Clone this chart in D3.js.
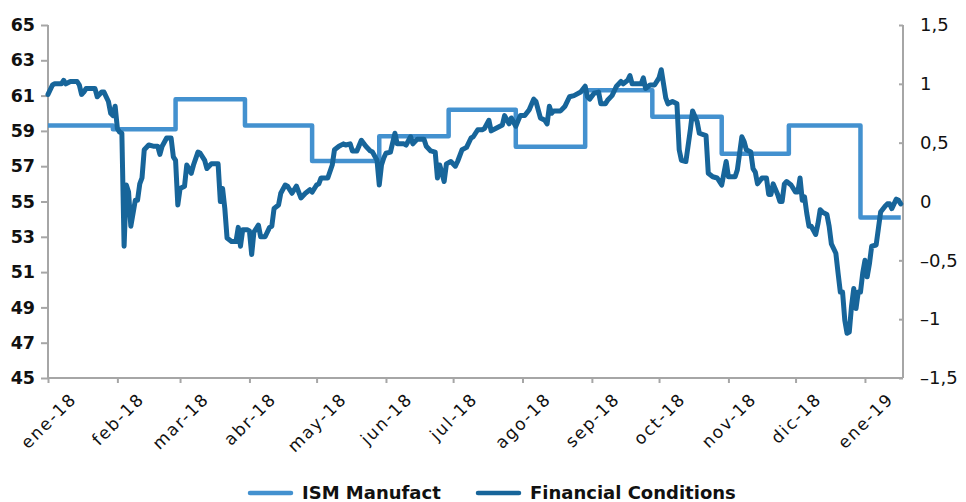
<!DOCTYPE html>
<html>
<head>
<meta charset="utf-8">
<script src="https://cdn.jsdelivr.net/npm/d3@7"></script>
<style>
  body { margin: 0; background: #fff; }
</style>
</head>
<body>
<script>
// ISM vs Financial Conditions chart

// ISM Manufacturing (left axis), value changes on these dates
var ismDates = ["2018-01-01","2018-01-30","2018-02-27","2018-03-30","2018-04-29","2018-05-29",
  "2018-06-29","2018-07-29","2018-08-29","2018-09-28","2018-10-29","2018-11-28","2018-12-30","2019-01-17"];
var ismValues = [59.3, 59.1, 60.8, 59.3, 57.3, 58.7, 60.2, 58.1, 61.3, 59.8, 57.7, 59.3, 54.1, 54.1];

// Financial Conditions index (right axis)
var fcDates = [
  "2018-01-01","2018-01-03","2018-01-04","2018-01-07","2018-01-08","2018-01-09","2018-01-11","2018-01-14","2018-01-15","2018-01-16",
  "2018-01-17","2018-01-18","2018-01-22","2018-01-23","2018-01-25","2018-01-26","2018-01-28","2018-01-29","2018-01-30","2018-01-31",
  "2018-02-01","2018-02-02","2018-02-03","2018-02-04","2018-02-05","2018-02-06","2018-02-07","2018-02-09","2018-02-10","2018-02-11",
  "2018-02-12","2018-02-13","2018-02-15","2018-02-17","2018-02-19","2018-02-20","2018-02-21","2018-02-23","2018-02-25","2018-02-26",
  "2018-02-27","2018-02-28","2018-03-01","2018-03-03","2018-03-04","2018-03-06","2018-03-07","2018-03-09","2018-03-10","2018-03-12",
  "2018-03-13","2018-03-15","2018-03-18","2018-03-19","2018-03-20","2018-03-21","2018-03-22","2018-03-24","2018-03-26","2018-03-27",
  "2018-03-28","2018-03-29","2018-03-31","2018-04-01","2018-04-02","2018-04-03","2018-04-05","2018-04-06","2018-04-08","2018-04-10",
  "2018-04-11","2018-04-12","2018-04-14","2018-04-15","2018-04-17","2018-04-18","2018-04-20","2018-04-22","2018-04-24","2018-04-26",
  "2018-04-28","2018-04-29","2018-05-01","2018-05-02","2018-05-03","2018-05-06","2018-05-08","2018-05-09","2018-05-11","2018-05-13",
  "2018-05-14","2018-05-16","2018-05-17","2018-05-19","2018-05-21","2018-05-23","2018-05-25","2018-05-26","2018-05-28","2018-05-29",
  "2018-05-30","2018-05-31","2018-06-01","2018-06-03","2018-06-05","2018-06-06","2018-06-09","2018-06-10","2018-06-12","2018-06-13",
  "2018-06-15","2018-06-18","2018-06-19","2018-06-21","2018-06-23","2018-06-24","2018-06-25","2018-06-27","2018-06-28","2018-06-30",
  "2018-07-02","2018-07-03","2018-07-05","2018-07-07","2018-07-09","2018-07-10","2018-07-12","2018-07-14","2018-07-15","2018-07-17",
  "2018-07-18","2018-07-20","2018-07-23","2018-07-24","2018-07-26","2018-07-27","2018-07-29","2018-07-31","2018-08-02","2018-08-04",
  "2018-08-06","2018-08-07","2018-08-09","2018-08-11","2018-08-12","2018-08-13","2018-08-14","2018-08-15","2018-08-18","2018-08-20",
  "2018-08-22","2018-08-24","2018-08-27","2018-08-29","2018-08-30","2018-08-31","2018-09-02","2018-09-04","2018-09-05","2018-09-07",
  "2018-09-08","2018-09-10","2018-09-12","2018-09-14","2018-09-15","2018-09-17","2018-09-18","2018-09-19","2018-09-21","2018-09-23",
  "2018-09-24","2018-09-25","2018-09-27","2018-09-29","2018-10-01","2018-10-02","2018-10-04","2018-10-05","2018-10-07","2018-10-09",
  "2018-10-10","2018-10-11","2018-10-13","2018-10-15","2018-10-16","2018-10-18","2018-10-19","2018-10-22","2018-10-23","2018-10-25",
  "2018-10-27","2018-10-29","2018-10-30","2018-10-31","2018-11-01","2018-11-04","2018-11-05","2018-11-07","2018-11-08","2018-11-09",
  "2018-11-11","2018-11-12","2018-11-13","2018-11-14","2018-11-16","2018-11-18","2018-11-19","2018-11-20","2018-11-21","2018-11-23",
  "2018-11-24","2018-11-25","2018-11-26","2018-11-27","2018-11-29","2018-12-01","2018-12-02","2018-12-03","2018-12-04","2018-12-05",
  "2018-12-06","2018-12-07","2018-12-08","2018-12-10","2018-12-11","2018-12-12","2018-12-13","2018-12-15","2018-12-16","2018-12-17",
  "2018-12-19","2018-12-20","2018-12-21","2018-12-22","2018-12-23","2018-12-24","2018-12-25","2018-12-26","2018-12-27","2018-12-28",
  "2018-12-29","2018-12-30","2018-12-31","2019-01-01","2019-01-02","2019-01-03","2019-01-04","2019-01-06","2019-01-07","2019-01-08",
  "2019-01-10","2019-01-11","2019-01-12","2019-01-13","2019-01-15","2019-01-16","2019-01-17"];
var fcValues = [
  0.91, 0.99, 1.00, 1.00, 1.03, 1.00, 1.02, 1.02, 0.99, 0.91,
  0.93, 0.96, 0.96, 0.89, 0.93, 0.93, 0.85, 0.75, 0.73, 0.81,
  0.62, 0.59, 0.58, -0.38, 0.14, 0.08, -0.21, 0.01, 0.01, 0.15,
  0.20, 0.44, 0.48, 0.47, 0.47, 0.40, 0.47, 0.54, 0.54, 0.38,
  0.35, -0.03, 0.11, 0.13, 0.31, 0.24, 0.31, 0.42, 0.41, 0.35,
  0.28, 0.32, 0.32, 0.00, 0.11, -0.06, -0.31, -0.34, -0.34, -0.22,
  -0.38, -0.24, -0.24, -0.25, -0.45, -0.26, -0.20, -0.30, -0.30, -0.22,
  -0.21, -0.06, -0.03, 0.07, 0.14, 0.13, 0.07, 0.13, 0.03, 0.07,
  0.10, 0.08, 0.14, 0.15, 0.20, 0.20, 0.31, 0.44, 0.47, 0.49,
  0.48, 0.49, 0.43, 0.43, 0.52, 0.47, 0.43, 0.42, 0.35, 0.14,
  0.31, 0.37, 0.41, 0.42, 0.58, 0.49, 0.49, 0.48, 0.55, 0.49,
  0.53, 0.53, 0.47, 0.43, 0.42, 0.20, 0.31, 0.17, 0.32, 0.34,
  0.30, 0.34, 0.44, 0.46, 0.54, 0.55, 0.61, 0.61, 0.62, 0.69,
  0.60, 0.62, 0.65, 0.73, 0.66, 0.71, 0.64, 0.73, 0.73, 0.78,
  0.87, 0.85, 0.71, 0.69, 0.66, 0.81, 0.75, 0.77, 0.77, 0.81,
  0.89, 0.90, 0.93, 0.98, 0.89, 0.87, 0.92, 0.93, 0.83, 0.83,
  0.86, 0.90, 0.98, 1.02, 1.00, 1.03, 1.07, 1.00, 1.00, 1.00,
  1.05, 0.96, 0.99, 0.99, 1.05, 1.12, 0.88, 0.83, 0.85, 0.83,
  0.44, 0.35, 0.34, 0.61, 0.77, 0.68, 0.58, 0.56, 0.24, 0.21,
  0.20, 0.14, 0.24, 0.34, 0.21, 0.21, 0.27, 0.55, 0.51, 0.44,
  0.42, 0.28, 0.25, 0.15, 0.20, 0.20, 0.06, 0.06, 0.15, 0.06,
  0.00, 0.00, 0.15, 0.17, 0.14, 0.08, 0.08, 0.20, 0.01, 0.04,
  -0.10, -0.21, -0.21, -0.28, -0.19, -0.07, -0.09, -0.11, -0.21, -0.36,
  -0.44, -0.61, -0.77, -0.77, -1.01, -1.12, -1.11, -0.89, -0.74, -0.91,
  -0.77, -0.77, -0.61, -0.50, -0.64, -0.53, -0.38, -0.37, -0.23, -0.09,
  -0.04, -0.02, -0.02, -0.06, 0.02, 0.01, -0.02];

// axes
var monthTicks = ["2018-01-01","2018-02-01","2018-03-01","2018-04-01","2018-05-01","2018-06-01",
  "2018-07-01","2018-08-01","2018-09-01","2018-10-01","2018-11-01","2018-12-01","2019-01-01"];
var monthLabels = ["ene-18","feb-18","mar-18","abr-18","may-18","jun-18","jul-18",
  "ago-18","sep-18","oct-18","nov-18","dic-18","ene-19"];
var leftTicks = [45, 47, 49, 51, 53, 55, 57, 59, 61, 63, 65];
var rightTicks = [-1.5, -1, -0.5, 0, 0.5, 1, 1.5];
var seriesNames = ["ISM Manufact", "Financial Conditions"];
var colors = ["#4391cf", "#17659a"];

var width = 966, height = 502;
var parse = d3.timeParse("%Y-%m-%d");

var svg = d3.select("body").append("svg")
  .attr("width", width)
  .attr("height", height)
  .style("display", "block");

var x = d3.scaleTime()
  .domain([parse("2018-01-01"), parse("2019-01-18")])
  .range([48, 903]);
var yL = d3.scaleLinear().domain([45, 65]).range([378, 25]);
var yR = d3.scaleLinear().domain([-1.5, 1.5]).range([378, 25]);

var axisColor = "#a6a6a6";

// left axis
var gL = svg.append("g").attr("transform", "translate(48,0)")
  .call(d3.axisLeft(yL).tickValues(leftTicks).tickSize(7).tickPadding(6).tickFormat(d3.format("d")));
gL.selectAll("text")
  .style("font-family", "DejaVu Sans").style("font-weight", "bold")
  .style("font-size", "17.5px").attr("fill", "#111");

// right axis (ticks point inward, labels to the right)
var gR = svg.append("g").attr("transform", "translate(903,0)")
  .call(d3.axisRight(yR).tickValues(rightTicks).tickSize(0).tickPadding(17)
    .tickFormat(function(d){ return String(d).replace(".", ",").replace("-", "\u2013"); }));
gR.selectAll(".tick").append("line").attr("x1", -4).attr("x2", 0);
gR.selectAll("text")
  .style("font-family", "DejaVu Sans")
  .style("font-size", "18px").attr("fill", "#111");

// bottom axis
var gX = svg.append("g").attr("transform", "translate(0,378)")
  .call(d3.axisBottom(x).tickValues(monthTicks.map(parse)).tickSize(5)
    .tickFormat(function(d, i){ return monthLabels[i]; }));
gX.selectAll("text")
  .style("font-family", "DejaVu Sans")
  .style("font-size", "17px")
  .style("letter-spacing", "1.8px")
  .attr("fill", "#111")
  .attr("text-anchor", "end")
  .attr("y", 0).attr("dy", 0)
  .attr("transform", function(){
    // centre the rotated label on its tick
    var L = this.getComputedTextLength();
    var off = 0.354 * L + 0.354 * 12;
    return "translate(" + off + ",22) rotate(-45)";
  });

[gL, gR, gX].forEach(function(g){
  g.select(".domain").attr("stroke", axisColor).attr("stroke-width", 2);
  g.selectAll(".tick line").attr("stroke", axisColor).attr("stroke-width", 2);
});
gL.select(".domain").attr("d", "M0,25V378");
gR.select(".domain").attr("d", "M0,25V378");
gX.select(".domain").attr("d", "M48,0H903");

// ISM step line
var ism = ismDates.map(function(d, i){ return { date: parse(d), value: ismValues[i] }; });
svg.append("path")
  .datum(ism)
  .attr("fill", "none")
  .attr("stroke", colors[0])
  .attr("stroke-width", 4.5)
  .attr("stroke-linejoin", "round")
  .attr("d", d3.line().curve(d3.curveStepAfter)
    .x(function(d){ return x(d.date); })
    .y(function(d){ return yL(d.value); }));

// financial conditions line
var fc = fcDates.map(function(d, i){ return { date: parse(d), value: fcValues[i] }; });
svg.append("path")
  .datum(fc)
  .attr("fill", "none")
  .attr("stroke", colors[1])
  .attr("stroke-width", 5)
  .attr("stroke-linejoin", "round")
  .attr("stroke-linecap", "round")
  .attr("d", d3.line()
    .x(function(d){ return x(d.date); })
    .y(function(d){ return yR(d.value); }));

// legend
var legendX = [250, 478];
seriesNames.forEach(function(name, i){
  var lg = svg.append("g").attr("transform", "translate(" + legendX[i] + ",493)");
  lg.append("line")
    .attr("x1", 0).attr("x2", 41).attr("y1", 0).attr("y2", 0)
    .attr("stroke", colors[i]).attr("stroke-width", 4.5).attr("stroke-linecap", "round");
  lg.append("text")
    .attr("x", 52).attr("y", 0).attr("dy", "0.36em")
    .style("font-family", "DejaVu Sans").style("font-weight", "bold")
    .style("font-size", "18px").attr("fill", "#111")
    .text(name);
});
</script>
</body>
</html>
